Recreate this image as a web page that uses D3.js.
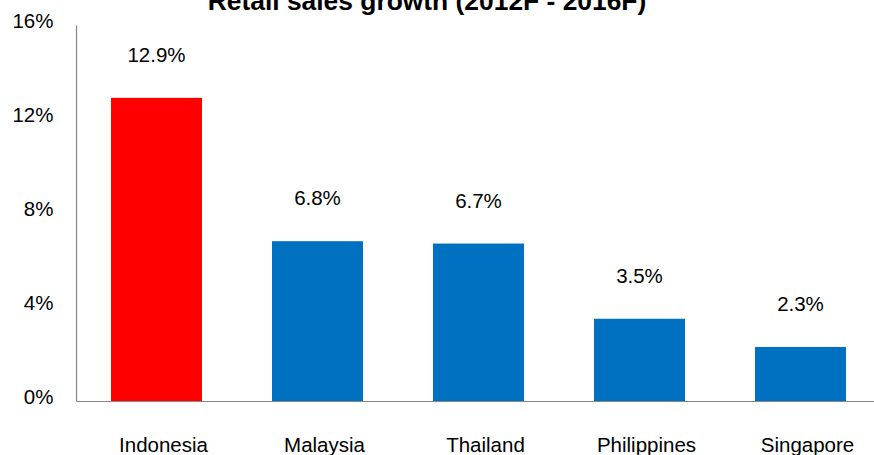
<!DOCTYPE html>
<html>
<head>
<meta charset="utf-8">
<script src="https://cdn.jsdelivr.net/npm/d3@7"></script>
<style>
  html, body { margin: 0; padding: 0; background: #fff; }
  svg { display: block; font-family: Arial, "Liberation Sans", sans-serif; }
</style>
</head>
<body>
<svg id="chart" width="874" height="455"></svg>
<script>
// Retail sales growth by country, 2012F–2016F
const countries = ["Indonesia", "Malaysia", "Thailand", "Philippines", "Singapore"];
const growth = [12.9, 6.8, 6.7, 3.5, 2.3];
const valueLabels = ["12.9%", "6.8%", "6.7%", "3.5%", "2.3%"];
const yTicks = [0, 4, 8, 12, 16];
const yTickLabels = ["0%", "4%", "8%", "12%", "16%"];
const barColors = ["#FF0000", "#0070C0", "#0070C0", "#0070C0", "#0070C0"];

(function () {
  const svg = d3.select("#chart");
  const plotLeft = 76, plotRight = 881, plotTop = 25, plotBottom = 401;
  const fontSize = 20.5;

  const x = d3.scaleBand().domain(countries).range([plotLeft, plotRight])
    .paddingInner(0.435).paddingOuter(0.2175);
  const y = d3.scaleLinear().domain([0, 16]).range([plotBottom, plotTop]);

  // Title (sits partly above the top edge)
  svg.append("text")
    .attr("x", 427).attr("y", 10)
    .attr("text-anchor", "middle")
    .attr("font-weight", "bold")
    .attr("font-size", 26.4)
    .attr("fill", "#000")
    .text("Retail sales growth (2012F - 2016F)");

  // Bars
  svg.selectAll("rect.bar")
    .data(countries)
    .join("rect")
    .attr("class", "bar")
    .attr("x", d => x(d))
    .attr("width", x.bandwidth())
    .attr("y", (d, i) => y(growth[i]))
    .attr("height", (d, i) => y(0) - y(growth[i]))
    .attr("fill", (d, i) => barColors[i]);

  // Value labels above bars
  svg.selectAll("text.val")
    .data(countries)
    .join("text")
    .attr("class", "val")
    .attr("x", d => x(d) + x.bandwidth() / 2)
    .attr("y", (d, i) => y(growth[i]) - 36)
    .attr("text-anchor", "middle")
    .attr("font-size", fontSize)
    .attr("fill", "#000")
    .text((d, i) => valueLabels[i]);

  // Y axis
  const yAxis = d3.axisLeft(y).tickValues(yTicks).tickSize(0).tickPadding(22.5)
    .tickFormat((d, i) => yTickLabels[i]);
  const gy = svg.append("g").attr("transform", `translate(${plotLeft},0)`).call(yAxis);
  gy.select(".domain").attr("stroke", "#868686").attr("stroke-width", 1.2);
  gy.selectAll("text").attr("font-size", fontSize).attr("fill", "#000")
    .attr("font-family", "Arial, 'Liberation Sans', sans-serif").attr("dy", "2.5px");

  // X axis (category labels sit slightly right of the bar centres)
  const xAxis = d3.axisBottom(x).tickSize(0).tickPadding(0);
  const gx = svg.append("g").attr("transform", `translate(0,${plotBottom})`).call(xAxis);
  gx.select(".domain").attr("stroke", "#868686").attr("stroke-width", 1.2);
  gx.selectAll("text").attr("font-size", fontSize).attr("fill", "#000")
    .attr("font-family", "Arial, 'Liberation Sans', sans-serif")
    .attr("y", 0).attr("dy", "50.5px").attr("dx", "7px");
})();
</script>
</body>
</html>
